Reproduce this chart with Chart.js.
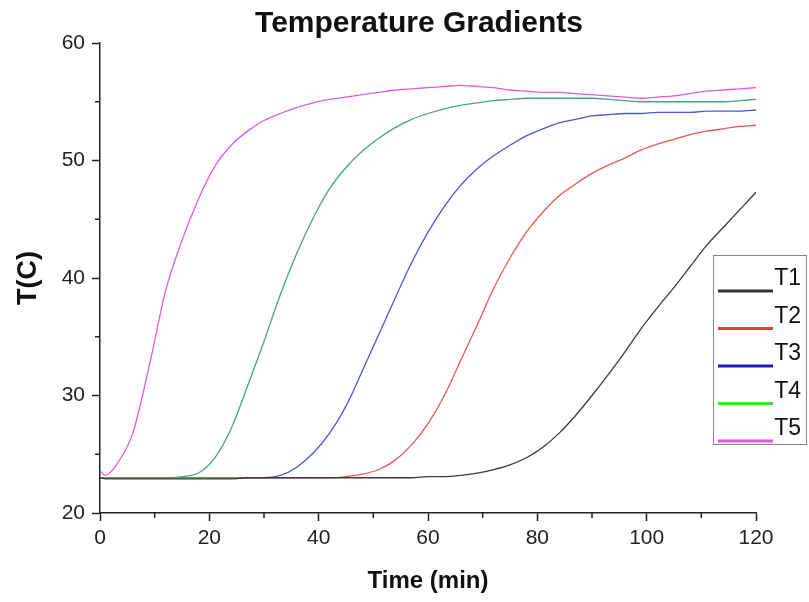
<!DOCTYPE html>
<html lang="en">
<head>
    <meta charset="UTF-8">
    <title>Temperature Gradients</title>
    <script src="https://cdn.jsdelivr.net/npm/chart.js"></script>
    <style>
        body { margin: 0; background: white; }
        #wrap { width: 809px; height: 602px; }
    </style>
</head>
<body>
    <div id="wrap"><canvas id="tempChart"></canvas></div>
    <script>
        // time in minutes, readings in deg C
        const times = [0, 1, 3, 6, 9, 12, 15, 18, 21, 24, 27, 30, 33, 36, 39, 42, 45, 48, 51, 54, 57, 60,
                       63, 66, 69, 72, 75, 78, 81, 84, 87, 90, 93, 96, 99, 102, 105, 108, 111, 114, 117, 120];

        const t1 = [23.0, 22.9, 22.9, 22.9, 22.9, 22.9, 22.9, 22.9, 22.9, 22.9, 23.0, 23.0, 23.0, 23.0, 23.0, 23.0,
                    23.0, 23.0, 23.0, 23.0, 23.0, 23.1, 23.1, 23.2, 23.4, 23.7, 24.1, 24.7, 25.6, 26.8, 28.3, 30.0,
                    31.8, 33.7, 35.7, 37.5, 39.2, 41.0, 42.8, 44.3, 45.8, 47.3];
        const t2 = [23.0, 23.0, 23.0, 23.0, 23.0, 23.0, 23.0, 23.0, 23.0, 23.0, 23.0, 23.0, 23.0, 23.0, 23.0, 23.0,
                    23.1, 23.3, 23.7, 24.5, 25.8, 27.6, 30.0, 33.0, 36.0, 39.1, 41.7, 43.9, 45.6, 47.0, 48.0, 48.9,
                    49.6, 50.2, 50.9, 51.4, 51.8, 52.2, 52.5, 52.7, 52.9, 53.0];
        const t3 = [23.0, 23.0, 23.0, 23.0, 23.0, 23.0, 23.0, 23.0, 23.0, 23.0, 23.0, 23.0, 23.2, 23.9, 25.1, 26.8,
                    29.1, 32.1, 35.2, 38.3, 41.3, 43.9, 46.1, 47.9, 49.3, 50.4, 51.3, 52.1, 52.7, 53.2, 53.5, 53.8,
                    53.9, 54.0, 54.0, 54.1, 54.1, 54.1, 54.2, 54.2, 54.2, 54.3];
        const t4 = [23.0, 23.0, 23.0, 23.0, 23.0, 23.0, 23.1, 23.4, 24.7, 27.2, 30.8, 34.6, 38.6, 42.1, 45.1, 47.6,
                    49.4, 50.8, 51.9, 52.8, 53.5, 54.0, 54.4, 54.7, 54.9, 55.1, 55.2, 55.3, 55.3, 55.3, 55.3, 55.3,
                    55.2, 55.1, 55.0, 55.0, 55.0, 55.0, 55.0, 55.0, 55.1, 55.2];
        const t5 = [23.6, 23.2, 24.1, 26.8, 32.5, 38.9, 43.2, 46.7, 49.5, 51.3, 52.5, 53.4, 54.0, 54.5, 54.9, 55.2,
                    55.4, 55.6, 55.8, 56.0, 56.1, 56.2, 56.3, 56.4, 56.3, 56.2, 56.0, 55.9, 55.8, 55.8, 55.7, 55.6,
                    55.5, 55.4, 55.3, 55.4, 55.5, 55.7, 55.9, 56.0, 56.1, 56.2];

        const seriesNames = ['T1', 'T2', 'T3', 'T4', 'T5'];
        const seriesData = [t1, t2, t3, t4, t5];
        const lineColors = ['#3c3c3c', '#e65a55', '#5252dc', '#45a28a', '#e05ae0'];
        const legendColors = ['#333333', '#e23c3c', '#1c1cb4', '#3fe03f', '#e250e8'];

        const sans = "'Liberation Sans', Arial, sans-serif";

        function toPoints(vals) {
            return vals.map((v, i) => ({ x: times[i], y: v }));
        }

        // title, shorter minor ticks and the boxed legend
        const decorations = {
            id: 'decorations',
            afterDraw(chart) {
                const ctx = chart.ctx;
                const xs = chart.scales.x, ys = chart.scales.y;
                ctx.save();

                ctx.fillStyle = '#111';
                ctx.font = 'bold 30px ' + sans;
                ctx.textAlign = 'center';
                ctx.textBaseline = 'alphabetic';
                ctx.fillText('Temperature Gradients', 419, 32);

                ctx.strokeStyle = '#222';
                ctx.lineWidth = 1.5;
                ctx.beginPath();
                for (let v = 10; v < 120; v += 20) {
                    const px = xs.getPixelForValue(v);
                    ctx.moveTo(px, xs.top);
                    ctx.lineTo(px, xs.top + 5);
                }
                for (let v = 25; v < 60; v += 10) {
                    const py = ys.getPixelForValue(v);
                    ctx.moveTo(ys.right, py);
                    ctx.lineTo(ys.right - 5, py);
                }
                ctx.stroke();

                ctx.strokeStyle = '#888';
                ctx.lineWidth = 1;
                ctx.strokeRect(713.5, 255.5, 93, 189);
                ctx.font = '23px ' + sans;
                ctx.textAlign = 'right';
                chart.data.datasets.forEach((ds, i) => {
                    const y = 291 + i * 37.5;
                    ctx.fillStyle = '#111';
                    ctx.fillText(ds.label, 801, y - 6);
                    ctx.strokeStyle = legendColors[i];
                    ctx.lineWidth = 3;
                    ctx.beginPath();
                    ctx.moveTo(718, y);
                    ctx.lineTo(773, y);
                    ctx.stroke();
                });
                ctx.restore();
            }
        };

        new Chart(document.getElementById('tempChart'), {
            type: 'line',
            data: {
                datasets: seriesNames.map((name, i) => ({
                    label: name,
                    data: toPoints(seriesData[i]),
                    borderColor: lineColors[i],
                    borderWidth: 1.3,
                    pointRadius: 0,
                    fill: false,
                    cubicInterpolationMode: 'monotone'
                }))
            },
            options: {
                responsive: true,
                maintainAspectRatio: false,
                animation: false,
                layout: { padding: { top: 43, right: 53, left: 0, bottom: 0 } },
                plugins: {
                    legend: { display: false },
                    tooltip: { enabled: false }
                },
                scales: {
                    x: {
                        type: 'linear',
                        min: 0,
                        max: 120,
                        afterFit(scale) { scale.height = 89; },
                        border: { color: '#222', width: 1.5 },
                        grid: {
                            drawOnChartArea: false,
                            tickLength: 8,
                            tickWidth: 1.5,
                            tickColor: '#222'
                        },
                        ticks: {
                            stepSize: 20,
                            padding: 5,
                            maxRotation: 0,
                            color: '#222',
                            font: { family: sans, size: 21 }
                        },
                        title: {
                            display: true,
                            text: 'Time (min)',
                            color: '#111',
                            font: { family: sans, size: 24, weight: 'bold' },
                            padding: { bottom: 6, top: 0 }
                        }
                    },
                    y: {
                        min: 20,
                        max: 60,
                        afterFit(scale) { scale.width = 100; },
                        border: { color: '#222', width: 1.5 },
                        grid: {
                            drawOnChartArea: false,
                            tickLength: 8,
                            tickWidth: 1.5,
                            tickColor: '#222'
                        },
                        ticks: {
                            stepSize: 10,
                            padding: 7,
                            color: '#222',
                            font: { family: sans, size: 21 }
                        },
                        title: {
                            display: true,
                            text: 'T(C)',
                            color: '#111',
                            font: { family: sans, size: 27, weight: 'bold' },
                            padding: { top: 12, bottom: 0 }
                        }
                    }
                }
            },
            plugins: [decorations]
        });
    </script>
</body>
</html>
